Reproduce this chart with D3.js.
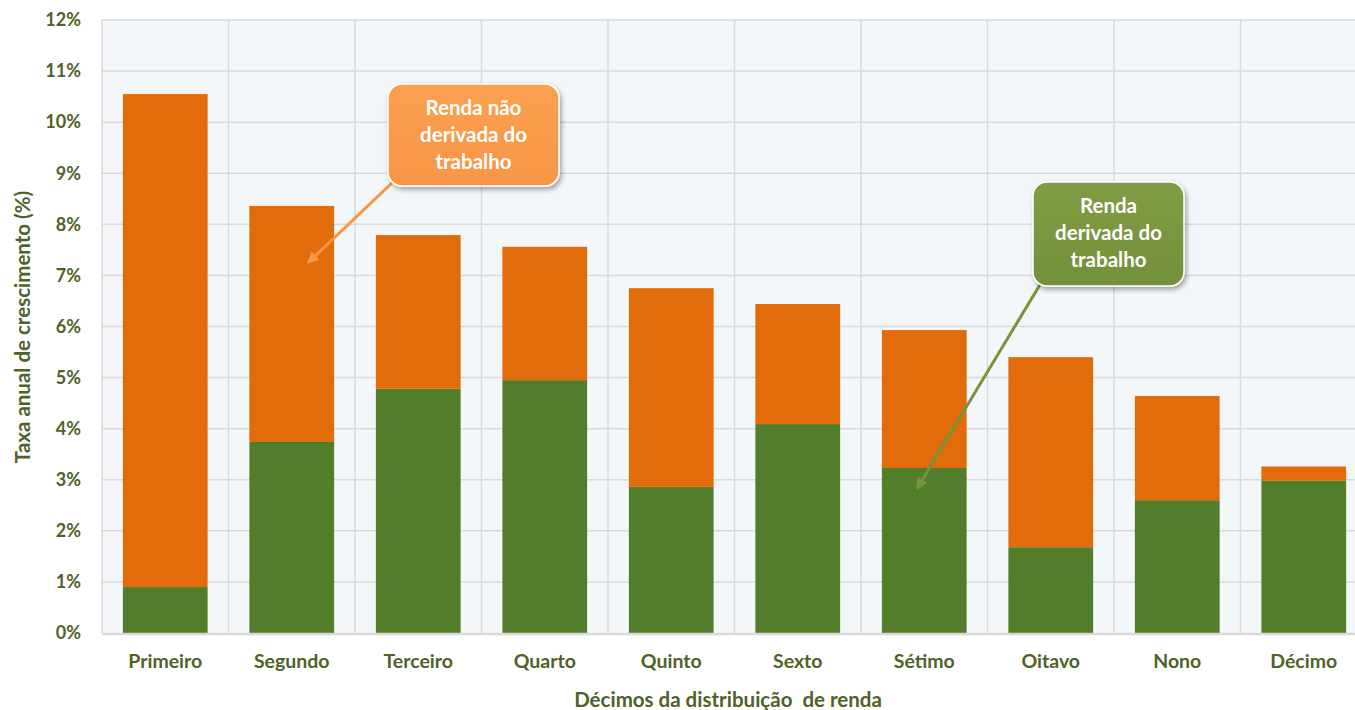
<!DOCTYPE html>
<html>
<head>
<meta charset="utf-8">
<script src="https://cdn.jsdelivr.net/npm/d3@7"></script>
<style>
  body { margin: 0; background: #ffffff; }
  svg { display: block; }
  text { font-family: Lato, "Open Sans", sans-serif; font-weight: bold; }
</style>
</head>
<body>
<svg width="1355" height="710"></svg>
<script>
var categories = ["Primeiro", "Segundo", "Terceiro", "Quarto", "Quinto", "Sexto", "Sétimo", "Oitavo", "Nono", "Décimo"];
// Renda derivada do trabalho (green, bottom)
var laborIncome = [0.90, 3.74, 4.78, 4.95, 2.86, 4.09, 3.23, 1.68, 2.60, 2.98];
// Renda não derivada do trabalho (orange, top)
var nonLaborIncome = [9.65, 4.62, 3.01, 2.61, 3.89, 2.35, 2.70, 3.72, 2.04, 0.28];
var yTicks = [0, 1, 2, 3, 4, 5, 6, 7, 8, 9, 10, 11, 12];

var green = "#527e2c";
var orange = "#e36c0a";
var textColor = "#4f6228";

var svg = d3.select("svg");

var xScale = d3.scaleBand().domain(categories).range([102, 1367])
    .paddingInner(0.33).paddingOuter(0.165);
var yScale = d3.scaleLinear().domain([0, 12]).range([633, 20]);

var gap = (xScale.step() - xScale.bandwidth()) / 2;

// Plot background
svg.append("rect")
    .attr("x", xScale.range()[0])
    .attr("y", yScale(12))
    .attr("width", xScale.range()[1] - xScale.range()[0])
    .attr("height", yScale(0) - yScale(12))
    .attr("fill", "#f4f7fa");

// Horizontal gridlines
svg.append("g").selectAll("line")
    .data(yTicks.slice(1))
    .enter().append("line")
    .attr("x1", xScale.range()[0])
    .attr("x2", xScale.range()[1])
    .attr("y1", d => yScale(d))
    .attr("y2", d => yScale(d))
    .style("stroke", "#d9d9d9")
    .style("stroke-width", 1.5);

// Vertical gridlines at category boundaries
svg.append("g").selectAll("line")
    .data(categories)
    .enter().append("line")
    .attr("x1", d => xScale(d) - gap)
    .attr("x2", d => xScale(d) - gap)
    .attr("y1", yScale(12))
    .attr("y2", yScale(0))
    .style("stroke", "#d9d9d9")
    .style("stroke-width", 1.5);

// Stacked bars
var stackData = categories.map((c, i) => ({ cat: c, labor: laborIncome[i], nonLabor: nonLaborIncome[i] }));
var series = d3.stack().keys(["labor", "nonLabor"])(stackData);
var colors = { labor: green, nonLabor: orange };

svg.append("g").selectAll("g")
    .data(series)
    .enter().append("g")
    .attr("fill", d => colors[d.key])
    .selectAll("rect")
    .data(d => d)
    .enter().append("rect")
    .attr("x", d => xScale(d.data.cat))
    .attr("y", d => yScale(d[1]))
    .attr("width", xScale.bandwidth())
    .attr("height", d => yScale(d[0]) - yScale(d[1]));

// Baseline
svg.append("line")
    .attr("x1", xScale.range()[0])
    .attr("x2", xScale.range()[1])
    .attr("y1", yScale(0) + 1)
    .attr("y2", yScale(0) + 1)
    .style("stroke", "#d9d9d9")
    .style("stroke-width", 2.5);

// Y axis labels
var yAxis = d3.axisLeft(yScale)
    .tickValues(yTicks)
    .tickFormat(d => d + "%")
    .tickSize(0)
    .tickPadding(21);

var yAxisG = svg.append("g").attr("transform", "translate(102,0)").call(yAxis);
yAxisG.select(".domain").remove();
yAxisG.selectAll("text")
    .style("font-family", "Lato, sans-serif")
    .style("font-weight", "bold")
    .style("font-size", "18px")
    .attr("fill", textColor);

// X axis labels
var xAxis = d3.axisBottom(xScale).tickSize(0).tickPadding(21);
var xAxisG = svg.append("g").attr("transform", "translate(0,633)").call(xAxis);
xAxisG.select(".domain").remove();
xAxisG.selectAll("text")
    .style("font-family", "Lato, sans-serif")
    .style("font-weight", "bold")
    .style("font-size", "19.5px")
    .attr("fill", textColor);

// Axis titles
svg.append("text")
    .attr("x", 728)
    .attr("y", 707)
    .attr("text-anchor", "middle")
    .attr("fill", textColor)
    .style("font-size", "20.5px")
    .style("white-space", "pre")
    .text("Décimos da distribuição  de renda");

svg.append("text")
    .attr("transform", "translate(30,327) rotate(-90)")
    .attr("text-anchor", "middle")
    .attr("fill", textColor)
    .style("font-size", "20.5px")
    .text("Taxa anual de crescimento (%)");

// Callouts
var defs = svg.append("defs");
var shadow = defs.append("filter").attr("id", "shadow")
    .attr("x", "-20%").attr("y", "-20%").attr("width", "140%").attr("height", "150%");
shadow.append("feDropShadow")
    .attr("dx", 2).attr("dy", 3).attr("stdDeviation", 2.5)
    .attr("flood-color", "#000").attr("flood-opacity", 0.35);

function gradient(id, top, bottom) {
    var g = defs.append("linearGradient").attr("id", id)
        .attr("x1", 0).attr("y1", 0).attr("x2", 0).attr("y2", 1);
    g.append("stop").attr("offset", "0%").attr("stop-color", top);
    g.append("stop").attr("offset", "100%").attr("stop-color", bottom);
}
gradient("gradOrange", "#fba050", "#f79646");
gradient("gradGreen", "#7f9d44", "#73903a");

var markers = [["arrowOrange", "#f79646"], ["arrowGreen", "#77933c"]];
markers.forEach(m => {
    defs.append("marker")
        .attr("id", m[0])
        .attr("viewBox", "0 0 10 10")
        .attr("refX", 8).attr("refY", 5)
        .attr("markerWidth", 4).attr("markerHeight", 4)
        .attr("orient", "auto")
        .append("path")
        .attr("d", "M0,0 L10,5 L0,10 z")
        .attr("fill", m[1]);
});

var callouts = [
    { lines: ["Renda não", "derivada do", "trabalho"], x: 388, y: 84, w: 171, h: 102,
      fill: "url(#gradOrange)", stroke: "#f79646", marker: "arrowOrange",
      from: [394, 181], tipCat: "Segundo", tipX: 0.7, tipY: 7.26 },
    { lines: ["Renda", "derivada do", "trabalho"], x: 1033, y: 182, w: 151, h: 104,
      fill: "url(#gradGreen)", stroke: "#77933c", marker: "arrowGreen",
      from: [1041, 283], tipCat: "Sétimo", tipX: 0.42, tipY: 2.84 }
];

callouts.forEach(c => {
    svg.append("line")
        .attr("x1", c.from[0])
        .attr("y1", c.from[1])
        .attr("x2", xScale(c.tipCat) + xScale.bandwidth() * c.tipX)
        .attr("y2", yScale(c.tipY))
        .style("stroke", c.stroke)
        .style("stroke-width", 3)
        .attr("marker-end", "url(#" + c.marker + ")");

    svg.append("rect")
        .attr("x", c.x).attr("y", c.y)
        .attr("width", c.w).attr("height", c.h)
        .attr("rx", 14).attr("ry", 14)
        .attr("fill", c.fill)
        .attr("stroke", "#ffffff")
        .attr("stroke-width", 1.5)
        .attr("filter", "url(#shadow)");

    svg.append("g").selectAll("text")
        .data(c.lines)
        .enter().append("text")
        .attr("x", c.x + c.w / 2)
        .attr("y", (d, i) => c.y + 31 + i * 27)
        .attr("text-anchor", "middle")
        .attr("fill", "#ffffff")
        .style("font-size", "20.5px")
        .text(d => d);
});
</script>
</body>
</html>
